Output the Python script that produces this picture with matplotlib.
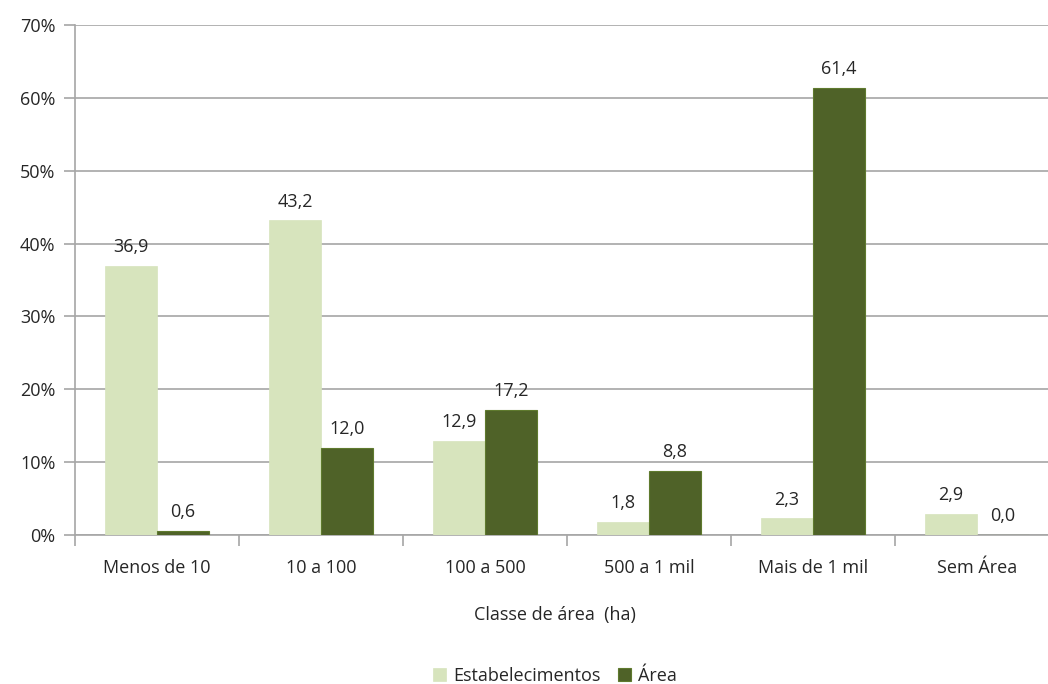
import numpy as np
import matplotlib.pyplot as plt
from matplotlib.ticker import FixedLocator, PercentFormatter

# Dados do gráfico (percentuais por classe de área)
categorias = ['Menos de 10', '10 a 100', '100 a 500', '500 a 1 mil', 'Mais de 1 mil', 'Sem Área']
estabelecimentos = [36.9, 43.2, 12.9, 1.8, 2.3, 2.9]
area = [0.6, 12.0, 17.2, 8.8, 61.4, 0.0]
series_nomes = ['Estabelecimentos', 'Área']

COR_CLARA = '#d7e4bd'
COR_ESCURA = '#4f6228'
COR_GRADE = '#a6a6a6'
COR_TEXTO = '#262626'
FS = 13

plt.rcParams['font.family'] = ['Open Sans', 'DejaVu Sans']

fig = plt.figure(figsize=(10.48, 6.84), dpi=100)
ax = fig.add_axes([75 / 1048, 1 - 535 / 684, 984 / 1048, 510 / 684])

x = np.arange(len(categorias))
largura = 0.317

b1 = ax.bar(x - largura / 2, estabelecimentos, largura, color=COR_CLARA,
            edgecolor=COR_CLARA, linewidth=0.5, label=series_nomes[0], zorder=3)
b2 = ax.bar(x + largura / 2, area, largura, color=COR_ESCURA,
            edgecolor='#5f7a2e', linewidth=0.8, label=series_nomes[1], zorder=3)

for barras in (b1, b2):
    for b in barras:
        v = b.get_height()
        ax.annotate(f'{v:.1f}'.replace('.', ','),
                    (b.get_x() + b.get_width() / 2, v),
                    xytext=(0, 7), textcoords='offset points',
                    ha='center', va='bottom', fontsize=FS, color=COR_TEXTO)

ax.set_xlim(-0.5, len(categorias) - 0.5)
ax.set_ylim(0, 70)
ax.set_yticks(np.arange(0, 71, 10))
ax.yaxis.set_major_formatter(PercentFormatter(decimals=0))
ax.yaxis.grid(True, color=COR_GRADE, linewidth=1.2, zorder=0)

ax.set_xticks(x)
ax.set_xticklabels(categorias)
ax.xaxis.set_minor_locator(FixedLocator(np.arange(-0.5, len(categorias), 1.0)))
ax.tick_params(axis='x', which='major', length=0, pad=17, labelsize=FS, labelcolor=COR_TEXTO)
ax.tick_params(axis='x', which='minor', length=8, width=1.2, color=COR_GRADE, direction='out')
ax.tick_params(axis='y', length=8, width=1.2, color=COR_GRADE, pad=6,
               labelsize=FS, labelcolor=COR_TEXTO)

for lado in ('top', 'right'):
    ax.spines[lado].set_visible(False)
ax.spines['left'].set_color(COR_GRADE)
ax.spines['left'].set_linewidth(1.2)
ax.spines['bottom'].set_color(COR_GRADE)
ax.spines['bottom'].set_linewidth(1.2)

ax.set_xlabel('Classe de área  (ha)', fontsize=FS, color=COR_TEXTO)
ax.xaxis.set_label_coords((555 - 75) / 984, -(606 - 535) / 510)

fig.legend(handles=[b1, b2], labels=series_nomes, loc='center',
           bbox_to_anchor=(555 / 1048, 1 - 676 / 684), ncol=2, frameon=False,
           fontsize=FS, handlelength=0.7, handleheight=0.7, handletextpad=0.4,
           columnspacing=1.0, labelcolor=COR_TEXTO)

fig.savefig('out.png', dpi=100)
